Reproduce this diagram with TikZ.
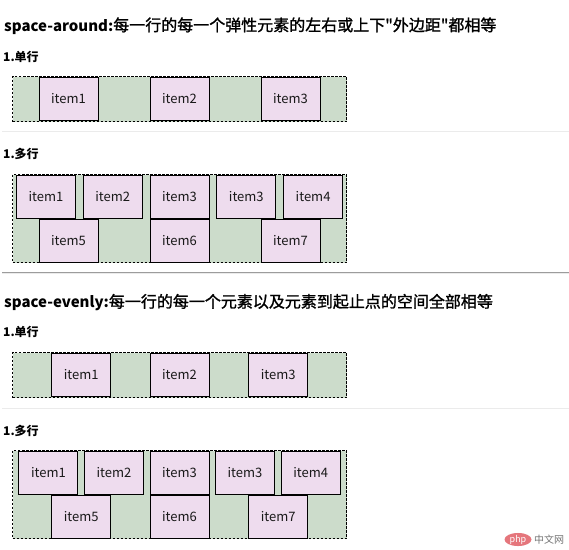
\documentclass[tikz,border=0pt]{standalone}
\usepackage{fontspec}
\setmainfont{Noto Sans CJK SC}[Ligatures=TeXOff]
\newfontfamily\cjkmedium{Noto Sans CJK SC}[Ligatures=TeXOff, FakeBold=1.3]
\usetikzlibrary{shapes.geometric}
\definecolor{boxbg}{HTML}{CCDCCB}
\definecolor{itembg}{HTML}{EEDCEE}
\definecolor{phpred}{HTML}{E5767C}
\definecolor{sepline}{HTML}{EBEBEB}
\definecolor{hrline}{HTML}{9C9C9C}
\begin{document}
\begin{tikzpicture}[x=1pt,y=-1pt,
  itembox/.style={draw=black, line width=1pt, fill=itembg, minimum width=59pt, minimum height=43pt,
    inner sep=0pt, font=\fontsize{13}{15}\selectfont, text=black!90},
  wrapbox/.style={draw=black, line width=1pt, dash pattern=on 2.5pt off 1.5pt, fill=boxbg,
    inner sep=0pt, minimum width=334pt},
  titletext/.style={anchor=base west, inner sep=0pt, font=\cjkmedium\fontsize{16}{18}\selectfont},
  subtext/.style={anchor=base west, inner sep=0pt, font=\bfseries\fontsize{12}{14}\selectfont},
  sepstyle/.style={draw=sepline, line width=1pt}]
\useasboundingbox[fill=white] (0,0) rectangle (569,549);

% ---------- section 1 ----------
\node[titletext] (t1) at (4,31) {{\rmfamily\bfseries\fontsize{15}{18}\selectfont space-around:}每一行的每一个弹性元素的左右或上下"外边距"都相等};
\node[subtext] (s1) at (3,61.3) {1.单行};
\node[wrapbox, minimum height=45pt] (c1) at (179.5,99) {};
\node[itembox] (a1) at (68.5,99) {item1};
\node[itembox] (a2) at (179.5,99) {item2};
\node[itembox] (a3) at (290.5,99) {item3};
\draw[sepstyle] (2,131.5) -- (569,131.5);

\node[subtext] (s2) at (3,158.8) {1.多行};
\node[wrapbox, minimum height=88pt] (c2) at (179.5,218.5) {};
\node[itembox] (b1) at (45.9,197) {item1};
\node[itembox] (b2) at (112.7,197) {item2};
\node[itembox] (b3) at (179.5,197) {item3};
\node[itembox] (b4) at (246.3,197) {item3};
\node[itembox] (b5) at (313.1,197) {item4};
\node[itembox] (b6) at (68.5,240.7) {item5};
\node[itembox] (b7) at (179.5,240.7) {item6};
\node[itembox] (b8) at (290.5,240.7) {item7};

% ---------- separator ----------
\draw[draw=hrline, line width=1pt] (2,272.5) -- (569,272.5);
\draw[sepstyle] (2,273.5) -- (569,273.5);

% ---------- section 2 ----------
\node[titletext] (t2) at (4,307.5) {{\rmfamily\bfseries\fontsize{15}{18}\selectfont space-evenly:}每一行的每一个元素以及元素到起止点的空间全部相等};
\node[subtext] (s3) at (3,336) {1.单行};
\node[wrapbox, minimum height=45pt] (c3) at (179.5,375) {};
\node[itembox] (d1) at (81.2,375) {item1};
\node[itembox] (d2) at (179.5,375) {item2};
\node[itembox] (d3) at (278.2,375) {item3};
\draw[sepstyle] (2,408.5) -- (569,408.5);

\node[subtext] (s4) at (3,435.3) {1.多行};
\node[wrapbox, minimum height=88pt] (c4) at (179.5,494.5) {};
\node[itembox] (e1) at (48.4,473) {item1};
\node[itembox] (e2) at (114,473) {item2};
\node[itembox] (e3) at (179.5,473) {item3};
\node[itembox] (e4) at (245,473) {item3};
\node[itembox] (e5) at (310.7,473) {item4};
\node[itembox] (e6) at (81.2,516.7) {item5};
\node[itembox] (e7) at (179.5,516.7) {item6};
\node[itembox] (e8) at (278.2,516.7) {item7};

% ---------- watermark ----------
\node[ellipse, fill=phpred, minimum width=27pt, minimum height=13pt, inner sep=0pt,
  text=white, font=\fontsize{9}{9}\selectfont] (php) at (518,539.5) {php};
\node[anchor=west, inner sep=0pt, text=black!55, font=\fontsize{10}{10}\selectfont] (cn) at (534,539.5) {中文网};
\end{tikzpicture}
\end{document}
